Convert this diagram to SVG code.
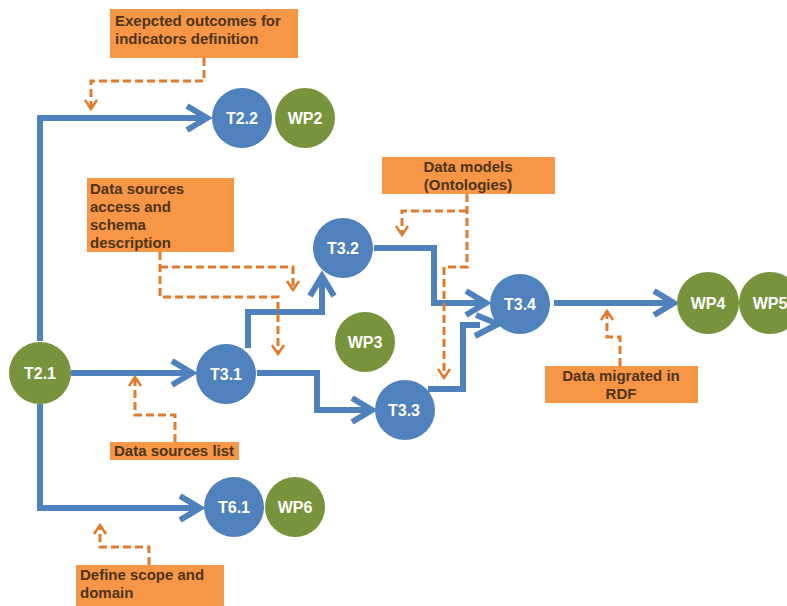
<svg xmlns="http://www.w3.org/2000/svg" width="787" height="606" viewBox="0 0 787 606">
<style>
.blue{fill:#4F81BD}
.green{fill:#77933C}
.ct{font-family:"Liberation Sans",Arial,sans-serif;font-weight:bold;font-size:16px;fill:#ffffff;text-anchor:middle}
.box{fill:#F79646}
.bt{font-family:"Liberation Sans",Arial,sans-serif;font-weight:bold;font-size:15px;fill:#4E3418}
.bl{fill:none;stroke:#4F81BD;stroke-width:6;stroke-linejoin:miter}
.dl{fill:none;stroke:#E07B2E;stroke-width:3;stroke-dasharray:8 4}
</style>
<defs>
<marker id="chev" markerUnits="userSpaceOnUse" markerWidth="34" markerHeight="34" viewBox="-26 -17 34 34" refX="0" refY="0" orient="auto">
<path d="M-20,-12 L0,0 L-20,12" fill="none" stroke="#4F81BD" stroke-width="6"/>
</marker>
<marker id="dv" markerUnits="userSpaceOnUse" markerWidth="16" markerHeight="16" viewBox="-12 -8 16 16" refX="0" refY="0" orient="auto">
<path d="M-9,-6 L0,0 L-9,6" fill="none" stroke="#E07B2E" stroke-width="2.5"/>
</marker>
</defs>
<rect width="787" height="606" fill="#ffffff"/>
<g id="connectors">
<path class="bl" d="M40,341 V118 H207" marker-end="url(#chev)"/>
<path class="bl" d="M71,373 H192" marker-end="url(#chev)"/>
<path class="bl" d="M40,404 V508 H200" marker-end="url(#chev)"/>
<path class="bl" d="M248,348 V312 H322 V276" marker-end="url(#chev)"/>
<path class="bl" d="M257,373 H317 V410 H372" marker-end="url(#chev)"/>
<path class="bl" d="M374,248 H434 V303 H486" marker-end="url(#chev)"/>
<path class="bl" d="M428,389 H463 V325 H480"/>
<polyline class="bl" points="476,315 498,324 475,336"/>
<path class="bl" d="M554,303 H674" marker-end="url(#chev)"/>
<path class="dl" d="M204,58 V81 H91 V109" marker-end="url(#dv)"/>
<path class="dl" d="M160,252 V297 H278 V354" marker-end="url(#dv)"/>
<path class="dl" d="M160,267 H293 V290" marker-end="url(#dv)"/>
<path class="dl" d="M467,194 V267 H444 V378" marker-end="url(#dv)"/>
<path class="dl" d="M467,211 H402 V235" marker-end="url(#dv)"/>
<path class="dl" d="M620,366 V337 H607 V311" marker-end="url(#dv)"/>
<path class="dl" d="M175,442 V415 H135 V377" marker-end="url(#dv)"/>
<path class="dl" d="M149,565 V547 H100 V525" marker-end="url(#dv)"/>
</g>
<g id="T2.1"><circle class="green" cx="40" cy="373" r="31"/><text class="ct" x="40" y="379">T2.1</text></g>
<g id="T2.2"><circle class="blue" cx="242" cy="118" r="30"/><text class="ct" x="242" y="124">T2.2</text></g>
<g id="WP2"><circle class="green" cx="305" cy="118" r="30"/><text class="ct" x="305" y="124">WP2</text></g>
<g id="T3.1"><circle class="blue" cx="226" cy="374" r="30"/><text class="ct" x="226" y="380">T3.1</text></g>
<g id="T3.2"><circle class="blue" cx="343" cy="248" r="30"/><text class="ct" x="343" y="254">T3.2</text></g>
<g id="WP3"><circle class="green" cx="365" cy="342" r="30"/><text class="ct" x="365" y="348">WP3</text></g>
<g id="T3.3"><circle class="blue" cx="405" cy="410" r="30"/><text class="ct" x="404" y="416">T3.3</text></g>
<g id="T3.4"><circle class="blue" cx="520" cy="304" r="30"/><text class="ct" x="520" y="310">T3.4</text></g>
<g id="WP4"><circle class="green" cx="708" cy="303" r="31"/><text class="ct" x="708" y="309">WP4</text></g>
<g id="WP5"><circle class="green" cx="770" cy="303" r="31"/><text class="ct" x="770" y="309">WP5</text></g>
<g id="T6.1"><circle class="blue" cx="234" cy="507" r="30"/><text class="ct" x="234" y="513">T6.1</text></g>
<g id="WP6"><circle class="green" cx="295" cy="507" r="30"/><text class="ct" x="295" y="513">WP6</text></g>
<g id="box-expected"><rect class="box" x="110" y="9" width="188" height="49"/><text class="bt" x="115" y="26">Exepcted outcomes for</text><text class="bt" x="115" y="44">indicators definition</text></g>
<g id="box-access"><rect class="box" x="87" y="178" width="147" height="74"/><text class="bt" x="90" y="194">Data sources</text><text class="bt" x="90" y="212">access and</text><text class="bt" x="90" y="230">schema</text><text class="bt" x="90" y="248">description</text></g>
<g id="box-models"><rect class="box" x="382" y="157" width="173" height="37"/><text class="bt" x="468" y="172" text-anchor="middle">Data models</text><text class="bt" x="468" y="190" text-anchor="middle">(Ontologies)</text></g>
<g id="box-rdf"><rect class="box" x="545" y="366" width="153" height="37"/><text class="bt" x="621" y="381" text-anchor="middle">Data migrated in</text><text class="bt" x="621" y="399" text-anchor="middle">RDF</text></g>
<g id="box-list"><rect class="box" x="110" y="442" width="129" height="18"/><text class="bt" x="114" y="456">Data sources list</text></g>
<g id="box-scope"><rect class="box" x="76" y="565" width="148" height="41"/><text class="bt" x="80" y="580">Define scope and</text><text class="bt" x="80" y="598">domain</text></g>
</svg>
